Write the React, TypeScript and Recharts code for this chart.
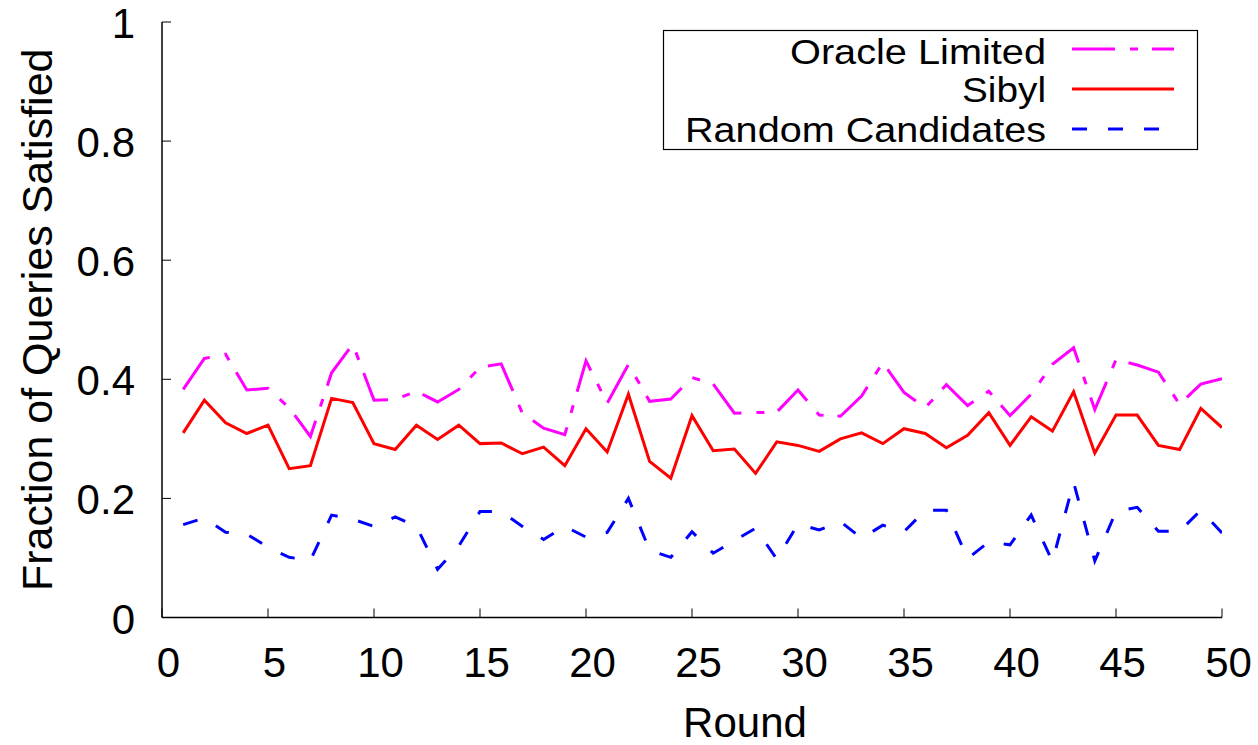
import React from 'react';
import { LineChart, Line, XAxis, YAxis, Legend } from 'recharts';

const rounds = [
  1, 2, 3, 4, 5, 6, 7, 8, 9, 10, 11, 12, 13, 14, 15, 16, 17, 18, 19, 20, 21, 22, 23, 24, 25,
  26, 27, 28, 29, 30, 31, 32, 33, 34, 35, 36, 37, 38, 39, 40, 41, 42, 43, 44, 45, 46, 47, 48, 49, 50,
];

const oracleLimited = [
  0.383, 0.435, 0.442, 0.382, 0.385, 0.352, 0.304, 0.411, 0.459, 0.365,
  0.366, 0.38, 0.362, 0.383, 0.42, 0.426, 0.343, 0.318, 0.307, 0.431,
  0.36, 0.425, 0.363, 0.367, 0.403, 0.392, 0.343, 0.344, 0.345, 0.382,
  0.34, 0.338, 0.372, 0.428, 0.378, 0.352, 0.391, 0.356, 0.38, 0.339,
  0.375, 0.425, 0.453, 0.349, 0.433, 0.424, 0.412, 0.358, 0.392, 0.401,
];

const sibyl = [
  0.31, 0.365, 0.327, 0.309, 0.323, 0.25, 0.255, 0.368, 0.361, 0.292,
  0.282, 0.323, 0.299, 0.323, 0.292, 0.293, 0.275, 0.286, 0.255, 0.317,
  0.278, 0.375, 0.262, 0.234, 0.339, 0.28, 0.283, 0.242, 0.295, 0.289,
  0.279, 0.3, 0.31, 0.292, 0.317, 0.309, 0.285, 0.306, 0.344, 0.289,
  0.337, 0.313, 0.379, 0.276, 0.34, 0.34, 0.289, 0.282, 0.351, 0.319,
];

const randomCandidates = [
  0.156, 0.167, 0.143, 0.14, 0.118, 0.101, 0.096, 0.172, 0.165, 0.153,
  0.169, 0.153, 0.081, 0.12, 0.178, 0.178, 0.153, 0.131, 0.153, 0.135,
  0.143, 0.2, 0.113, 0.101, 0.144, 0.108, 0.129, 0.15, 0.098, 0.157,
  0.147, 0.161, 0.133, 0.155, 0.144, 0.18, 0.18, 0.099, 0.127, 0.122,
  0.172, 0.094, 0.227, 0.095, 0.178, 0.185, 0.145, 0.145, 0.18, 0.142,
];

const xTicks = [0, 5, 10, 15, 20, 25, 30, 35, 40, 45, 50];
const yTicks = [0, 0.2, 0.4, 0.6, 0.8, 1];
const yTickLabels = ['0', '0.2', '0.4', '0.6', '0.8', '1'];

const seriesNames = ['Oracle Limited', 'Sibyl', 'Random Candidates'];
const seriesColors = ['#ff00ff', '#ff0000', '#0000ff'];
const seriesDash = ['43 15 8 14', '', '15 21'];
const legendTextWidths = [256, 84, 361];

const xLabel = 'Round';
const yLabel = 'Fraction of Queries Satisfied';

const data = rounds.map((r, i) => ({
  round: r,
  oracle: oracleLimited[i],
  sibyl: sibyl[i],
  random: randomCandidates[i],
}));

const FONT = '"Liberation Sans", Arial, Helvetica, sans-serif';

const XTick = (props: any) => {
  const { x, y, payload } = props;
  return (
    <text x={x + 6.5} y={y} textAnchor="middle" fontSize={42} fontFamily={FONT} fill="#000">
      {payload.value}
    </text>
  );
};

const YTick = (props: any) => {
  const { x, y, payload } = props;
  const idx = yTicks.indexOf(payload.value);
  return (
    <text x={x} y={y} dy={16} textAnchor="end" fontSize={42} fontFamily={FONT} fill="#000">
      {idx >= 0 ? yTickLabels[idx] : String(payload.value)}
    </text>
  );
};

const EmptyTick = () => <g />;

const XLabelContent = () => (
  <text x={745} y={737} textAnchor="middle" fontSize={42} fontFamily={FONT} fill="#000">
    {xLabel}
  </text>
);

const YLabelContent = () => (
  <text
    transform="translate(52,319.75) rotate(-90)"
    textAnchor="middle"
    fontSize={43}
    fontFamily={FONT}
    fill="#000"
  >
    {yLabel}
  </text>
);

const LegendContent = () => {
  const rowsBaseline = [33.5, 72, 111.7];
  const rowsLine = [19, 59, 99];
  return (
    <svg width={536} height={121} style={{ display: 'block', overflow: 'visible' }}>
      <rect x={0.5} y={0.5} width={534} height={119} fill="#fff" stroke="#000" strokeWidth={1.2} />
      {seriesNames.map((n, i) => (
        <g key={n}>
          <text
            x={383 - legendTextWidths[i]}
            y={rowsBaseline[i]}
            textAnchor="start"
            fontSize={35}
            fontFamily={FONT}
            fill="#000"
            textLength={legendTextWidths[i]}
            lengthAdjust="spacingAndGlyphs"
          >
            {n}
          </text>
          <line
            x1={409}
            x2={511}
            y1={rowsLine[i]}
            y2={rowsLine[i]}
            stroke={seriesColors[i]}
            strokeWidth={3}
            strokeDasharray={seriesDash[i] || undefined}
          />
        </g>
      ))}
    </svg>
  );
};

export default function App() {
  return (
    <div
      style={{
        position: 'fixed',
        left: 0,
        top: 0,
        width: 1258,
        height: 745,
        background: '#fff',
        overflow: 'hidden',
      }}
    >
      <LineChart
        width={1258}
        height={745}
        data={data}
        margin={{ top: 22, right: 36, bottom: 0, left: 0 }}
      >
        <XAxis
          xAxisId="b"
          dataKey="round"
          type="number"
          domain={[0, 50]}
          ticks={xTicks}
          interval={0}
          orientation="bottom"
          height={127.5}
          tickSize={-9}
          tickMargin={68.5}
          tick={XTick}
          axisLine={{ stroke: '#000', strokeWidth: 1.5 }}
          tickLine={{ stroke: '#000', strokeWidth: 1 }}
          label={{ content: XLabelContent }}
          allowDataOverflow
        />
        <XAxis
          xAxisId="t"
          dataKey="round"
          type="number"
          domain={[0, 50]}
          ticks={xTicks}
          interval={0}
          orientation="top"
          height={0}
          tickSize={-9}
          tick={EmptyTick}
          axisLine={{ stroke: '#000', strokeWidth: 1.5 }}
          tickLine={{ stroke: '#000', strokeWidth: 1 }}
          allowDataOverflow
        />
        <YAxis
          yAxisId="l"
          type="number"
          domain={[0, 1]}
          ticks={yTicks}
          interval={0}
          orientation="left"
          width={162}
          tickSize={-9}
          tickMargin={36}
          tick={YTick}
          axisLine={{ stroke: '#000', strokeWidth: 1.5 }}
          tickLine={{ stroke: '#000', strokeWidth: 1 }}
          label={{ content: YLabelContent }}
          allowDataOverflow
        />
        <YAxis
          yAxisId="r"
          type="number"
          domain={[0, 1]}
          ticks={yTicks}
          interval={0}
          orientation="right"
          width={0}
          tickSize={-9}
          tick={EmptyTick}
          axisLine={{ stroke: '#000', strokeWidth: 1.5 }}
          tickLine={{ stroke: '#000', strokeWidth: 1 }}
          allowDataOverflow
        />
        <Legend
          layout="horizontal"
          verticalAlign="middle"
          align="center"
          content={LegendContent}
          wrapperStyle={{ position: 'absolute', left: 663, top: 29.5, width: 536, height: 121 }}
        />
        <Line
          xAxisId="b"
          yAxisId="l"
          dataKey="oracle"
          stroke={seriesColors[0]}
          strokeWidth={3}
          strokeDasharray={seriesDash[0]}
          dot={false}
          activeDot={false}
          isAnimationActive={false}
          type="linear"
        />
        <Line
          xAxisId="b"
          yAxisId="l"
          dataKey="sibyl"
          stroke={seriesColors[1]}
          strokeWidth={3}
          dot={false}
          activeDot={false}
          isAnimationActive={false}
          type="linear"
        />
        <Line
          xAxisId="b"
          yAxisId="l"
          dataKey="random"
          stroke={seriesColors[2]}
          strokeWidth={3}
          strokeDasharray={seriesDash[2]}
          dot={false}
          activeDot={false}
          isAnimationActive={false}
          type="linear"
        />
      </LineChart>
    </div>
  );
}
